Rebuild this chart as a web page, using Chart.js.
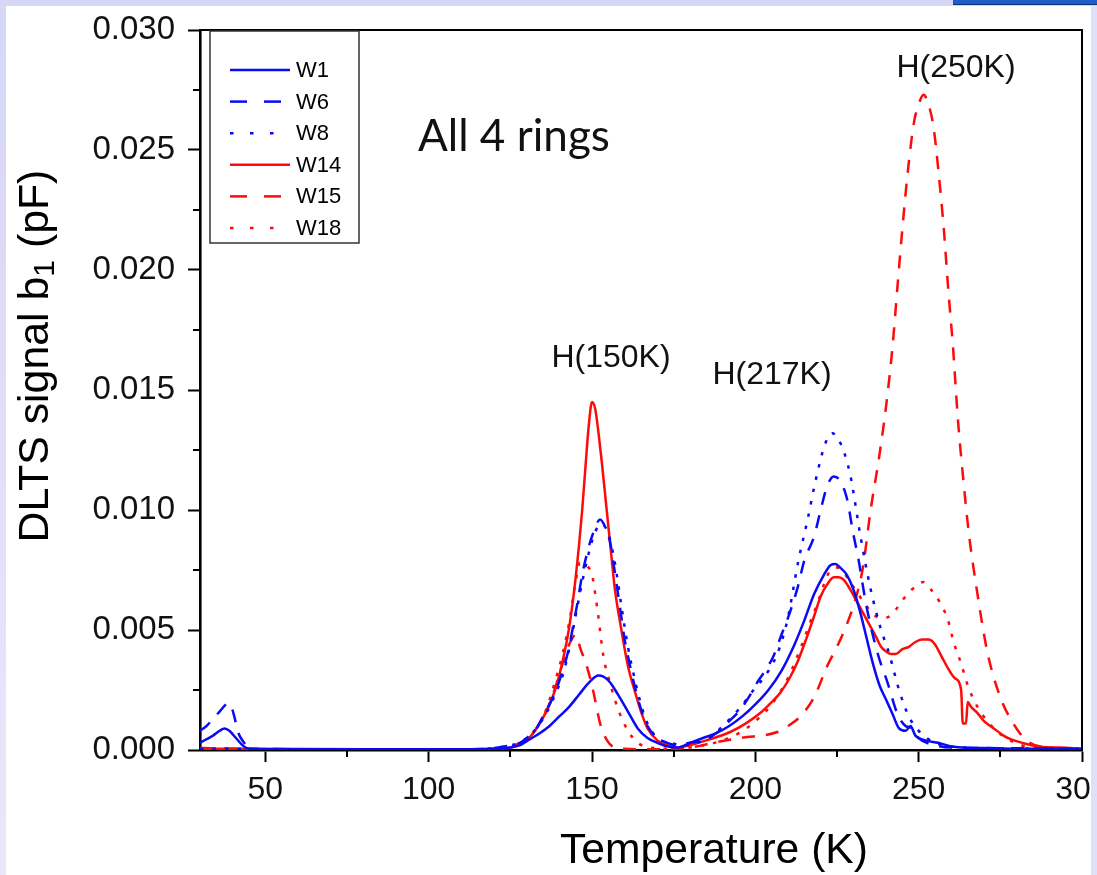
<!DOCTYPE html>
<html><head><meta charset="utf-8">
<script src="https://cdn.jsdelivr.net/npm/chart.js@4.4.0/dist/chart.umd.min.js"></script>
<style>
html,body{margin:0;padding:0;background:#dcdcf8;overflow:hidden}
canvas{display:block;position:absolute;left:0;top:0}
</style></head><body>
<canvas id="c" width="1097" height="875"></canvas>
<script>
// ---------------- data ----------------
const X_TICKS = [50, 100, 150, 200, 250, 300];
const X_MINOR = [75, 125, 175, 225, 275];
const Y_TICKS = [0, 0.005, 0.010, 0.015, 0.020, 0.025, 0.030];
const Y_MINOR = [0.0025, 0.0075, 0.0125, 0.0175, 0.0225, 0.0275];
const SERIES_NAMES = ['W1', 'W6', 'W8', 'W14', 'W15', 'W18'];

const W1_T = [30,32,34,36,37.5,39,41,43,45,50,80,110,120,125,128,131,134,137,140,143,146,149,152,155,158,161,164,167,170,173,176,180,184,188,192,196,200,204,208,212,215,218,221,223,224.5,226,228,230,232,234,236,238,240,242,244,246,247.5,249,252,256,260,270,280,290,300];
const W1_V = [0.0003,0.00045,0.0006,0.0008,0.0009,0.0008,0.0005,0.0002,0.00005,0.00003,0.00003,0.00003,0.00005,0.0001,0.0002,0.00045,0.0007,0.0010,0.0014,0.0018,0.0023,0.0028,0.0031,0.0029,0.0023,0.0016,0.0009,0.0005,0.0003,0.00015,0.0001,0.0003,0.0005,0.0007,0.0010,0.0014,0.0019,0.0025,0.0033,0.0044,0.0054,0.0065,0.0073,0.0077,0.00775,0.0076,0.0073,0.0067,0.0058,0.0047,0.0036,0.0027,0.0021,0.0015,0.0009,0.0008,0.0010,0.0006,0.0004,0.0003,0.00015,0.00008,0.00005,0.00005,0.00003];

const W6_T = [30,32,34,36,38,39,40.5,41.5,43.5,45,50,80,110,120,125,128,130,133,135,137,139,141,142.5,144,145.5,147,148.5,150,152.5,154,155.5,157,158.5,160,161.5,163,165,167,170,173,176,180,184,188,192,195.5,198,200.5,203,205.5,208,210.5,213,215,218,220,222,224,225.5,228,230,231.5,234,237.5,240.5,243.5,246,248,250,255,260,270,300];
const W6_V = [0.0008,0.0010,0.0013,0.0016,0.0019,0.00195,0.0014,0.0008,0.0003,0.0001,0.00003,0.00003,0.00003,0.00008,0.0002,0.0003,0.0005,0.0009,0.0014,0.0019,0.0025,0.0033,0.0040,0.0050,0.0061,0.0073,0.0082,0.0089,0.0096,0.0093,0.0087,0.0074,0.0060,0.0046,0.0036,0.0027,0.0017,0.0010,0.0005,0.0003,0.0002,0.0003,0.0004,0.0007,0.0012,0.0017,0.0022,0.0028,0.0033,0.0039,0.0048,0.0057,0.0068,0.0079,0.0089,0.0100,0.0110,0.0114,0.0113,0.0105,0.0090,0.0080,0.0060,0.0040,0.0028,0.0015,0.0010,0.0009,0.0005,0.0002,0.0001,0.00008,0.00005];

const W8_T = [30,40,50,80,110,120,125,128,130,133,135,137,139,141,143,145,147,149,151,153,155,157,159,161,163,165,167,170,174,178,182,186,190,195,200,202.5,206.7,209.8,213.2,216,218.4,221.5,223.5,226,229,232.2,235.3,238.3,241,244,247,250,255,260,270,300];
const W8_V = [0.00005,0.00005,0.00003,0.00003,0.00003,0.00008,0.0002,0.0003,0.0005,0.0009,0.0013,0.0018,0.0024,0.0031,0.0042,0.0056,0.0070,0.0082,0.0091,0.0094,0.0090,0.0078,0.0060,0.0043,0.0030,0.0019,0.0011,0.0005,0.0003,0.0002,0.0003,0.0005,0.0010,0.0017,0.0026,0.0030,0.0040,0.0054,0.0079,0.0096,0.0112,0.0128,0.0132,0.0128,0.0115,0.0089,0.0067,0.0051,0.0040,0.0025,0.0014,0.0008,0.0003,0.00015,0.00008,0.00005];

const W14_T = [30,45,80,110,120,125,128,130,133,136,138.7,141,143,144.5,146,147,148,149,150,151,152,153,154.5,156,157,159,161,163,165,167,170,173,176,180,185,192.3,197,201.5,205,207.7,210.5,213,215.5,217.8,220,222,224,225.5,227,229,231,233,235,237,238.5,240,241.5,243,245,247,249,251,253,255,257,259,261,263,263.5,264.5,265,266,268,270,273,276,278,283,288,293,300];
const W14_V = [0.00005,0.00005,0.00003,0.00003,0.00005,0.0001,0.0003,0.0004,0.0009,0.0016,0.0025,0.0037,0.0051,0.0066,0.0085,0.0100,0.0118,0.0135,0.0145,0.0142,0.0132,0.0120,0.0100,0.0080,0.0067,0.0050,0.0035,0.0025,0.0016,0.0009,0.0004,0.0002,0.0001,0.0002,0.0004,0.00075,0.0011,0.00154,0.0020,0.0024,0.0030,0.0037,0.0046,0.0055,0.0064,0.0069,0.0072,0.0072,0.0071,0.0067,0.0062,0.0057,0.0052,0.0047,0.0043,0.0041,0.0040,0.0040,0.0042,0.0043,0.0045,0.0046,0.0046,0.0044,0.0039,0.0034,0.0030,0.0025,0.0011,0.0011,0.0020,0.0018,0.00154,0.0012,0.0009,0.0006,0.00046,0.00025,0.00012,0.0001,0.00005];

const W15_T = [30,45,80,110,120,125,128,130,133,136,138.5,141,143,145,146.5,148.4,150.3,152.5,154.6,157,160,170,180,187,197.5,202,206.7,210,213.8,218,222,225,227,230,232.8,235.3,238,240,242,243.5,245,246.6,248.5,250,251.5,253,254.5,256,257.7,259,260.5,262,263.5,265.3,268,271,275,279,283,290,300];
const W15_V = [0.00008,0.00005,0.00003,0.00003,0.00005,0.0001,0.0003,0.0004,0.0009,0.0016,0.0025,0.0036,0.0044,0.0048,0.0042,0.0035,0.0025,0.0011,0.0004,0.0001,0.00005,0.00003,0.0001,0.0003,0.00054,0.0006,0.00075,0.0010,0.0014,0.0022,0.0035,0.0043,0.0049,0.0060,0.0075,0.0100,0.0123,0.0143,0.0168,0.0193,0.0217,0.0240,0.0261,0.0269,0.0273,0.0269,0.0260,0.0242,0.0217,0.0193,0.0168,0.0138,0.0115,0.0091,0.0065,0.0041,0.0022,0.0011,0.0004,0.0001,0.00005];

const W18_T = [30,80,110,125,128,130,133,136,139,141,143,145,146.3,148,150,151,152,153.5,155.5,158,161,164,168,175,180,190,195,200,205,210,214,217,219,221,223,225,227,229,231,234,236.5,238.5,241.4,245.4,249.7,251.5,253.7,256.7,259,260.7,263,265,268,273,278,285,300];
const W18_V = [0.00005,0.00003,0.00003,0.0001,0.0003,0.0004,0.0009,0.0017,0.0030,0.0040,0.0053,0.0070,0.0078,0.0077,0.0073,0.0065,0.0055,0.0039,0.0028,0.0017,0.0008,0.0003,0.0001,0.00005,0.0001,0.0004,0.0007,0.0012,0.0019,0.0030,0.0043,0.0054,0.0061,0.0069,0.0075,0.0076,0.0074,0.0070,0.0066,0.0060,0.0056,0.0055,0.0056,0.0063,0.0069,0.0070,0.0067,0.0061,0.0054,0.0045,0.0036,0.0027,0.0018,0.0009,0.0004,0.0001,0.00005];

const ANNOTATION_TEXTS = ['All 4 rings', 'H(150K)', 'H(217K)', 'H(250K)'];
const X_TITLE = 'Temperature (K)';
const Y_TITLE_PARTS = ['DLTS signal b', '1', ' (pF)'];

// ---------------- styles ----------------
const BLUE = '#0a0af5', RED = '#ff0a0a';
const FONT = "'Liberation Sans', Arial, Helvetica, sans-serif";
const SERIES_STYLE = {
  W1:  {color: BLUE, dash: []},
  W6:  {color: BLUE, dash: [13, 11]},
  W8:  {color: BLUE, dash: [3.5, 9]},
  W14: {color: RED,  dash: []},
  W15: {color: RED,  dash: [13, 11]},
  W18: {color: RED,  dash: [3.5, 9]}
};
const LEGEND_DASH = {W1: [], W6: [17, 17], W8: [3.5, 16.5], W14: [], W15: [17, 17], W18: [3.5, 16.5]};
const LEGEND_BOX = {x0: 210, y0: 31, x1: 359, y1: 243, lx0: 230, lx1: 290, tx: 296, firstY: 70, step: 31.6, font: 22};
const ANNOT_POS = [
  {family: "Lato, 'Open Sans', sans-serif", width: 192, x: 418, y: 151, align: 'left'},
  {family: FONT, size: 32, x: 611, y: 367, align: 'center'},
  {family: FONT, size: 32, x: 772, y: 384, align: 'center'},
  {family: FONT, size: 32, x: 956, y: 77, align: 'center'}
];

const SERIES_DATA = {W1: [W1_T, W1_V], W6: [W6_T, W6_V], W8: [W8_T, W8_V], W14: [W14_T, W14_V], W15: [W15_T, W15_V], W18: [W18_T, W18_V]};

function toXY(T, V) { return T.map((t, i) => ({x: t, y: V[i]})); }

const datasets = SERIES_NAMES.map(n => ({
  label: n,
  data: toXY(SERIES_DATA[n][0], SERIES_DATA[n][1]),
  borderColor: SERIES_STYLE[n].color,
  borderDash: SERIES_STYLE[n].dash,
  borderWidth: 2.5,
  pointRadius: 0,
  fill: false,
  cubicInterpolationMode: 'monotone',
  borderCapStyle: 'butt'
}));

const framePlugin = {
  id: 'frame',
  beforeDraw(chart) {
    const ctx = chart.ctx;
    ctx.save();
    const g = ctx.createLinearGradient(0, 0, 0, 875);
    g.addColorStop(0, '#d6d6f7'); g.addColorStop(1, '#e8e8fb');
    ctx.fillStyle = g; ctx.fillRect(0, 0, 1097, 875);
    ctx.fillStyle = '#ffffff'; ctx.fillRect(6, 6, 1085, 869);
    ctx.restore();
  },
  afterDraw(chart) {
    const ctx = chart.ctx, a = chart.chartArea;
    const xScale = chart.scales.x, yScale = chart.scales.y;
    ctx.save();
    ctx.strokeStyle = '#000'; ctx.lineWidth = 2;
    ctx.beginPath(); ctx.moveTo(a.left, a.top); ctx.lineTo(a.right, a.top); ctx.lineTo(a.right, a.bottom); ctx.stroke();
    X_MINOR.forEach(v => { const px = Math.round(xScale.getPixelForValue(v)); ctx.beginPath(); ctx.moveTo(px, a.bottom); ctx.lineTo(px, a.bottom + 7); ctx.stroke(); });
    Y_MINOR.forEach(v => { const py = Math.round(yScale.getPixelForValue(v)); ctx.beginPath(); ctx.moveTo(a.left, py); ctx.lineTo(a.left - 7, py); ctx.stroke(); });
    const L = LEGEND_BOX;
    ctx.fillStyle = '#fff';
    ctx.fillRect(L.x0, L.y0, L.x1 - L.x0, L.y1 - L.y0);
    ctx.strokeStyle = '#333'; ctx.lineWidth = 1.5;
    ctx.strokeRect(L.x0, L.y0, L.x1 - L.x0, L.y1 - L.y0);
    ctx.font = L.font + 'px ' + FONT; ctx.textBaseline = 'middle'; ctx.textAlign = 'left';
    SERIES_NAMES.forEach((n, i) => {
      const y = L.firstY + i * L.step;
      ctx.strokeStyle = SERIES_STYLE[n].color; ctx.lineWidth = 2.5; ctx.setLineDash(LEGEND_DASH[n]);
      ctx.beginPath(); ctx.moveTo(L.lx0, y); ctx.lineTo(L.lx1, y); ctx.stroke();
      ctx.setLineDash([]);
      ctx.fillStyle = '#000'; ctx.fillText(n, L.tx, y + 1);
    });
    ctx.fillStyle = '#111'; ctx.textBaseline = 'alphabetic';
    ANNOTATION_TEXTS.forEach((t, i) => {
      const p = ANNOT_POS[i];
      let size = p.size;
      if (!size) { ctx.font = '100px ' + p.family; size = 100 * p.width / ctx.measureText(t).width; }
      ctx.font = size + 'px ' + p.family; ctx.textAlign = p.align;
      ctx.fillText(t, p.x, p.y);
    });
    ctx.fillStyle = '#000';
    ctx.font = '100px ' + FONT;
    const xw100 = ctx.measureText(X_TITLE).width;
    ctx.font = (100 * 308 / xw100) + 'px ' + FONT; ctx.textAlign = 'center';
    ctx.fillText(X_TITLE, 714, 863);
    ctx.font = '100px ' + FONT;
    const total100 = ctx.measureText(Y_TITLE_PARTS[0]).width + 0.7 * ctx.measureText(Y_TITLE_PARTS[1]).width + ctx.measureText(Y_TITLE_PARTS[2]).width;
    const ySize = 100 * 373 / total100;
    ctx.translate(48, 356); ctx.rotate(-Math.PI / 2); ctx.textAlign = 'left';
    let tx = -373 / 2;
    ctx.font = ySize + 'px ' + FONT; ctx.fillText(Y_TITLE_PARTS[0], tx, 0); tx += ctx.measureText(Y_TITLE_PARTS[0]).width;
    ctx.font = (ySize * 0.7) + 'px ' + FONT; ctx.fillText(Y_TITLE_PARTS[1], tx, 6); tx += ctx.measureText(Y_TITLE_PARTS[1]).width;
    ctx.font = ySize + 'px ' + FONT; ctx.fillText(Y_TITLE_PARTS[2], tx, 0);
    ctx.setTransform(1, 0, 0, 1, 0, 0);
    ctx.fillStyle = '#e0e0fa'; ctx.fillRect(1091, 0, 6, 875);
    ctx.fillStyle = '#d6d6f7'; ctx.fillRect(0, 0, 1097, 6);
    ctx.fillStyle = '#1e5cc8'; ctx.fillRect(953, 0, 144, 5);
    ctx.fillStyle = '#0b2f7a'; ctx.fillRect(953, 4, 144, 1);
    ctx.restore();
  }
};

new Chart(document.getElementById('c'), {
  type: 'line',
  data: {datasets},
  plugins: [framePlugin],
  options: {
    responsive: false, animation: false, devicePixelRatio: 1,
    layout: {padding: {left: 0, top: 30, right: 15, bottom: 0}},
    plugins: {legend: {display: false}, tooltip: {enabled: false}},
    scales: {
      x: {
        type: 'linear', min: 30, max: 300,
        afterBuildTicks: s => { s.ticks = X_TICKS.map(v => ({value: v})); },
        afterFit: s => { s.height = 125; s.paddingLeft = 0; s.paddingRight = 0; },
        grid: {display: true, drawOnChartArea: false, drawTicks: true, tickLength: 12, tickWidth: 2, tickColor: '#000'},
        border: {display: true, color: '#000', width: 2.6},
        ticks: {font: {family: FONT, size: 32}, color: '#111', padding: 9, maxRotation: 0, autoSkip: false, callback: v => String(v)}
      },
      y: {
        type: 'linear', min: 0, max: 0.03,
        afterBuildTicks: s => { s.ticks = Y_TICKS.map(v => ({value: v})); },
        afterFit: s => { s.width = 200; s.paddingTop = 0; s.paddingBottom = 0; },
        grid: {display: true, drawOnChartArea: false, drawTicks: true, tickLength: 12, tickWidth: 2, tickColor: '#000'},
        border: {display: true, color: '#000', width: 2.6},
        ticks: {font: {family: FONT, size: 33}, color: '#111', padding: 13, autoSkip: false, callback: v => v.toFixed(3)}
      }
    }
  }
});
</script>
</body></html>
